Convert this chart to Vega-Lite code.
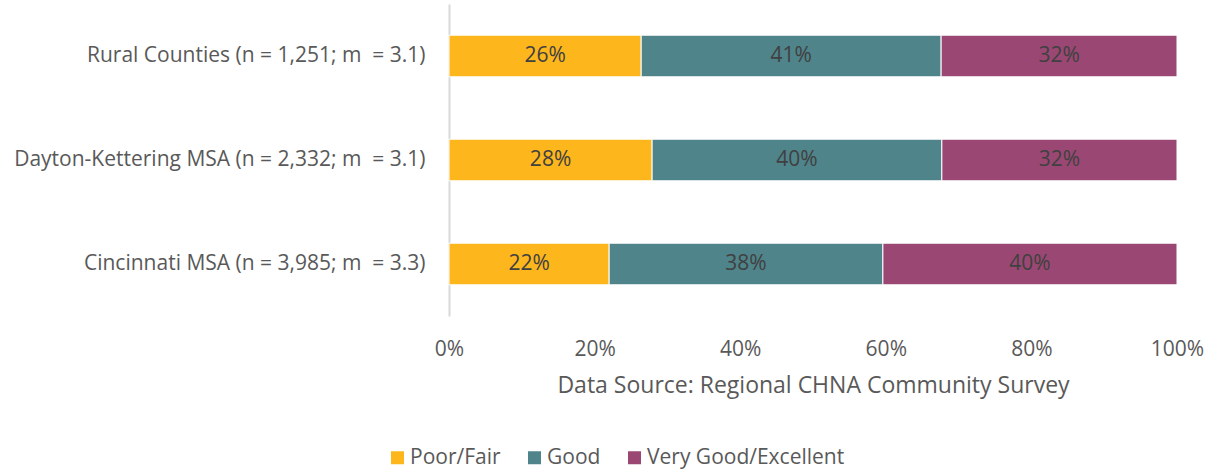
{
  "$schema": "https://vega.github.io/schema/vega-lite/v6.json",
  "width": 728,
  "height": 312,
  "autosize": {"type": "none"},
  "padding": {"left": 449, "top": 4, "right": 37, "bottom": 156},
  "background": "white",
  "config": {
    "view": {"stroke": null},
    "font": "Open Sans",
    "axis": {"labelFont": "Open Sans", "titleFont": "Open Sans", "labelColor": "#595959", "titleColor": "#595959"},
    "legend": {"labelFont": "Open Sans", "labelColor": "#595959"}
  },
  "data": {
    "values": [
      {"region": "Rural Counties (n = 1,251; m\u00a0 = 3.1)", "rating": "Poor/Fair", "order": 1, "share": 0.264},
      {"region": "Rural Counties (n = 1,251; m\u00a0 = 3.1)", "rating": "Good", "order": 2, "share": 0.412},
      {"region": "Rural Counties (n = 1,251; m\u00a0 = 3.1)", "rating": "Very Good/Excellent", "order": 3, "share": 0.324},
      {"region": "Dayton-Kettering MSA (n = 2,332; m\u00a0 = 3.1)", "rating": "Poor/Fair", "order": 1, "share": 0.279},
      {"region": "Dayton-Kettering MSA (n = 2,332; m\u00a0 = 3.1)", "rating": "Good", "order": 2, "share": 0.398},
      {"region": "Dayton-Kettering MSA (n = 2,332; m\u00a0 = 3.1)", "rating": "Very Good/Excellent", "order": 3, "share": 0.323},
      {"region": "Cincinnati MSA (n = 3,985; m\u00a0 = 3.3)", "rating": "Poor/Fair", "order": 1, "share": 0.22},
      {"region": "Cincinnati MSA (n = 3,985; m\u00a0 = 3.3)", "rating": "Good", "order": 2, "share": 0.376},
      {"region": "Cincinnati MSA (n = 3,985; m\u00a0 = 3.3)", "rating": "Very Good/Excellent", "order": 3, "share": 0.404}
    ]
  },
  "encoding": {
    "y": {
      "field": "region",
      "type": "nominal",
      "sort": ["Rural Counties (n = 1,251; m\u00a0 = 3.1)", "Dayton-Kettering MSA (n = 2,332; m\u00a0 = 3.1)", "Cincinnati MSA (n = 3,985; m\u00a0 = 3.3)"],
      "scale": {"paddingInner": 0.6, "paddingOuter": 0.3},
      "axis": {"title": null, "ticks": false, "domainColor": "#D9D9D9", "domainWidth": 2, "labelFontSize": 21, "labelPadding": 24, "labelLimit": 460}
    },
    "x": {
      "field": "share",
      "type": "quantitative",
      "stack": "zero",
      "scale": {"domain": [0, 1]},
      "axis": {"format": ".0%", "values": [0, 0.2, 0.4, 0.6, 0.8, 1], "grid": false, "domain": false, "ticks": false, "labelFlush": false, "labelFontSize": 21, "labelPadding": 22, "title": "Data Source: Regional CHNA Community Survey", "titleFontSize": 23, "titleFontWeight": "normal", "titlePadding": 15}
    },
    "order": {"field": "order", "type": "quantitative"}
  },
  "layer": [
    {
      "mark": {"type": "bar", "stroke": "white", "strokeWidth": 1},
      "encoding": {
        "color": {
          "field": "rating",
          "type": "nominal",
          "scale": {"domain": ["Poor/Fair", "Good", "Very Good/Excellent"], "range": ["#FDB71D", "#4F848B", "#9A4873"]},
          "legend": {"title": null, "orient": "none", "direction": "horizontal", "legendX": -62, "legendY": 443, "symbolType": "square", "symbolSize": 169, "symbolStrokeWidth": 0, "labelFontSize": 21, "labelLimit": 400, "columnPadding": 23, "symbolOffset": 0, "labelOffset": 2}
        }
      }
    },
    {
      "mark": {"type": "text", "color": "#404040", "fontSize": 21, "font": "Open Sans"},
      "encoding": {
        "x": {"field": "share", "type": "quantitative", "stack": "zero", "bandPosition": 0.5},
        "text": {"field": "share", "type": "quantitative", "format": ".0%"}
      }
    }
  ]
}
